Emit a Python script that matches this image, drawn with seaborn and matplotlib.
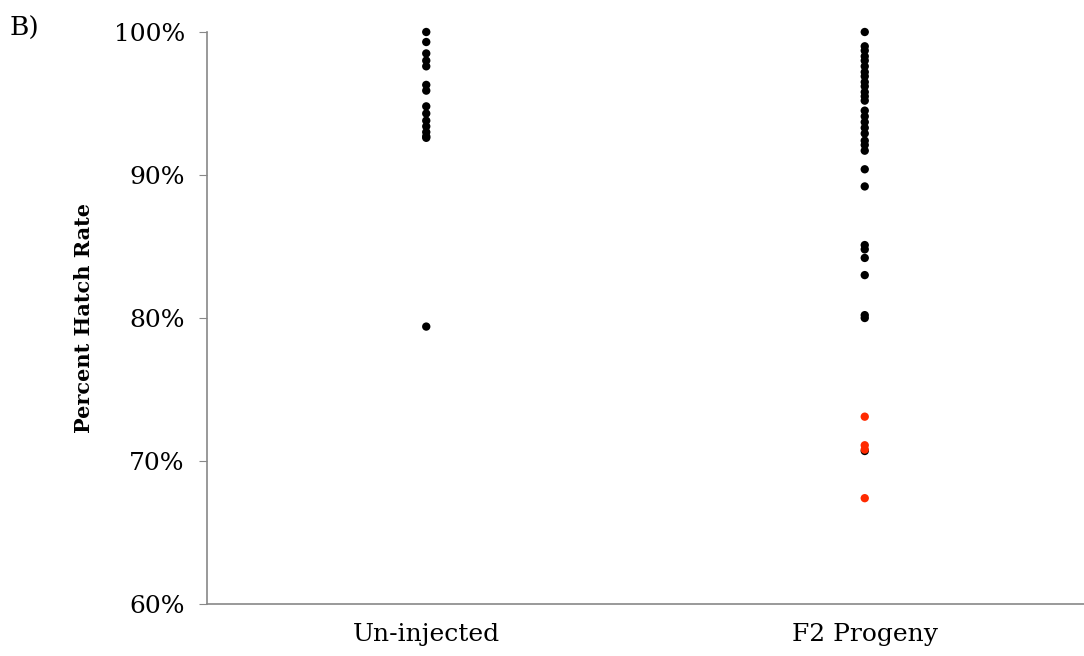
import matplotlib
matplotlib.use("Agg")
import matplotlib.pyplot as plt
import seaborn as sns
import pandas as pd
from matplotlib.ticker import PercentFormatter, FixedLocator

# Hatch rates (percent)
uninjected = [100.0, 99.3, 98.5, 98.0, 97.6, 96.3, 95.9, 94.8, 94.3, 93.8,
              93.4, 93.0, 92.7, 92.6, 79.4]
f2_black = [100.0, 99.0, 98.7, 98.3, 98.0, 97.6, 97.2, 96.9, 96.5, 96.2,
            95.8, 95.5, 95.2, 94.5, 94.1, 93.7, 93.3, 92.9, 92.4, 92.1,
            91.7, 90.4, 89.2, 85.1, 84.8, 84.2, 83.0, 80.2, 80.0, 70.7]
f2_red = [73.1, 71.1, 70.8, 67.4]
categories = ["Un-injected", "F2 Progeny"]

df = pd.DataFrame({
    "group": [categories[0]] * len(uninjected) + [categories[1]] * (len(f2_black) + len(f2_red)),
    "rate": uninjected + f2_black + f2_red,
    "kind": ["normal"] * (len(uninjected) + len(f2_black)) + ["low"] * len(f2_red),
})

sns.set_style("white")
plt.rcParams["font.family"] = ["DejaVu Serif"]
plt.rcParams["text.color"] = "black"
plt.rcParams["axes.labelcolor"] = "black"
plt.rcParams["xtick.labelcolor"] = "black"
plt.rcParams["ytick.labelcolor"] = "black"

fig = plt.figure(figsize=(10.84, 6.56), dpi=100)
ax = fig.add_axes([207 / 1084, 52 / 656, 877 / 1084, 572 / 656])

sns.stripplot(data=df, x="group", y="rate", hue="kind", order=categories,
              palette={"normal": "black", "low": "#ff2a00"}, jitter=False,
              size=6, linewidth=0, legend=False, ax=ax, zorder=3)
for coll in ax.collections:
    coll.set_clip_on(False)

ax.set_xlim(-0.5, 1.5)
ax.set_ylim(60, 100)
ax.yaxis.set_major_locator(FixedLocator([60, 70, 80, 90, 100]))
ax.yaxis.set_major_formatter(PercentFormatter(decimals=0))
ax.xaxis.set_major_locator(FixedLocator([0, 1]))
ax.xaxis.set_minor_locator(FixedLocator([0.5]))
ax.tick_params(axis="x", which="major", length=0, labelsize=18, pad=14)
ax.tick_params(axis="x", which="minor", length=6, color="#888888", direction="out")
ax.tick_params(axis="y", length=6, color="#888888", direction="out", labelsize=18, pad=10, left=True)

for side in ["top", "right"]:
    ax.spines[side].set_visible(False)
for side in ["left", "bottom"]:
    ax.spines[side].set_color("#888888")
    ax.spines[side].set_linewidth(1.2)

ax.set_xlabel("")
ax.set_ylabel("Percent Hatch Rate", fontsize=15, fontweight="bold", labelpad=14)
fig.text(10 / 1084, 1 - 36 / 656, "B)", fontsize=19)

fig.savefig("out.png", dpi=100)
